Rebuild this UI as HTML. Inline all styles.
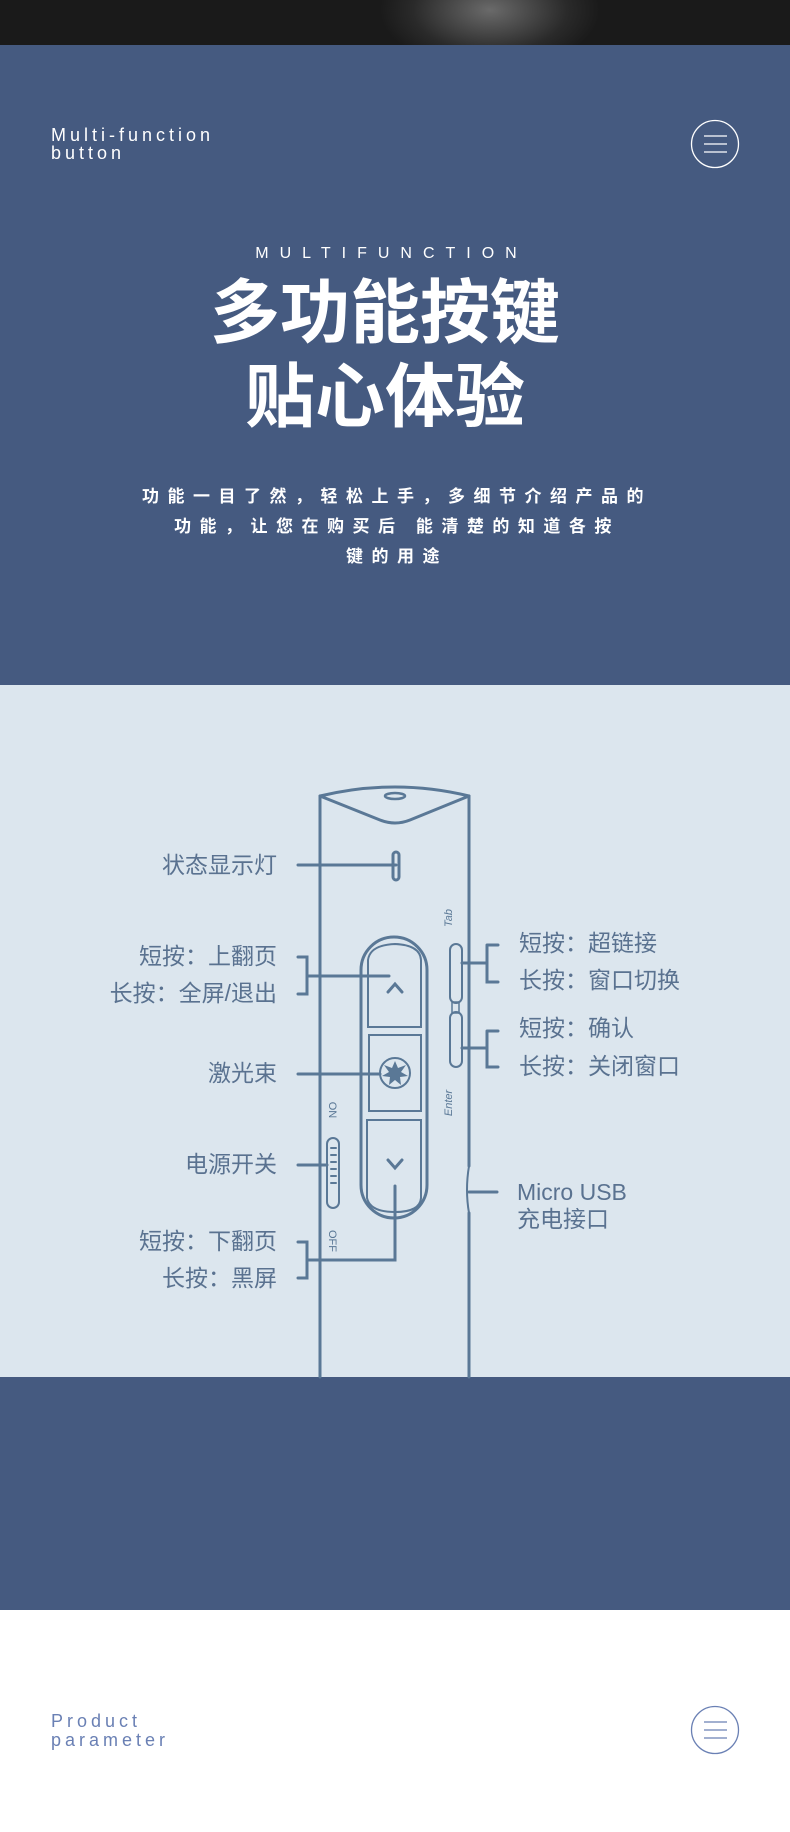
<!DOCTYPE html>
<html><head><meta charset="utf-8"><style>
*{margin:0;padding:0;box-sizing:border-box}
body{width:790px;height:1832px;position:relative;overflow:hidden;background:#fff;font-family:"Liberation Sans","Noto Sans CJK SC",sans-serif}
.abs{position:absolute}
</style></head><body>
<div class="abs" style="left:0;top:0;width:790px;height:45px;background:radial-gradient(ellipse 110px 60px at 490px 10px,#6a6a6a,#2a2a2a 70%,#1a1a1a)"></div>
<div class="abs" style="left:0;top:45px;width:790px;height:640px;background:#455a80"></div>
<div class="abs" style="left:0;top:685px;width:790px;height:692px;background:#dce6ee"></div>
<div class="abs" style="left:0;top:1377px;width:790px;height:233px;background:#455a80"></div>

<div class="abs" style="left:51px;top:126px;color:#fff;font-size:18px;line-height:18px;letter-spacing:4px;font-weight:500">Multi-function<br>button</div>
<div class="abs" style="left:0;top:245px;width:772px;text-align:center;color:#fff;font-size:16px;letter-spacing:11px;padding-left:11px">MULTIFUNCTION</div>
<div class="abs" style="left:0;top:266px;width:770px;text-align:center;color:#fff;font-size:70px;font-weight:bold;line-height:84px;font-family:'Noto Sans CJK SC',sans-serif">多功能按键<br>贴心体验</div>
<div class="abs" style="left:0;top:480px;width:790px;text-align:center;color:#fff;font-size:17px;font-weight:bold;line-height:30px;letter-spacing:8.5px;padding-left:4px;font-family:'Noto Sans CJK SC',sans-serif">功能一目了然，轻松上手，多细节介绍产品的<br>功能，让您在购买后 能清楚的知道各按<br>键的用途</div>

<div class="abs" style="left:51px;top:1712px;color:#6a80b4;font-size:18px;line-height:19px;letter-spacing:4px;font-weight:500">Product<br>parameter</div>

<svg class="abs" style="left:0;top:0" width="790" height="1832">
<g fill="none" stroke="#fff" stroke-width="1.3">
<circle cx="715" cy="144" r="23.5"/>
<path d="M704 136H727M704 144H727M704 152H727"/>
</g>
<g fill="none" stroke="#6a80b4" stroke-width="1.3">
<circle cx="715" cy="1730" r="23.5"/>
<path d="M704 1722H727M704 1730H727M704 1738H727"/>
</g>
<g fill="none" stroke="#5a7896" stroke-width="3" stroke-linecap="round">
<path d="M320 1377V796M469 1377V1213M469 1166V796"/>
<path d="M320 796Q395 778 469 796"/>
<path d="M320 796Q360 812 380 820Q395 826 410 820Q430 812 469 796"/>
<ellipse cx="395" cy="796" rx="10" ry="3" stroke-width="2.5"/>
<rect x="393" y="852" width="6" height="28" rx="3"/>
<rect x="361" y="937" width="66" height="281" rx="33"/>
<path d="M368 1027V960Q370 945 395 944Q420 945 421 960V1027Z" stroke-width="2"/>
<rect x="369" y="1035" width="52" height="76" stroke-width="2"/>
<path d="M367 1120H421V1198Q420 1212 395 1212Q370 1212 367 1198Z" stroke-width="2"/>
<path d="M388 992L395 984L402 992M388 1160L395 1168L402 1160"/>
<circle cx="395" cy="1073" r="15" stroke-width="2"/>
<path d="M298 865H396M298 957H307V994H298M307 976H389M298 1074H380M298 1165H327M298 1242H307V1278H298M307 1260H395V1186"/>
<rect x="327" y="1138" width="12" height="70" rx="6" stroke-width="2"/>
<path d="M331 1148h5M331 1155h5M331 1162h5M331 1169h5M331 1176h5M331 1183h5" stroke-width="2"/>
<rect x="450" y="944" width="12" height="59" rx="6" stroke-width="2"/>
<rect x="450" y="1012" width="12" height="55" rx="6" stroke-width="2"/>
<rect x="452" y="1002" width="7" height="11" stroke-width="1.5"/>
<path d="M462 963H487M487 945H498M487 945V982H498M462 1048H487M487 1031H498M487 1031V1067H498M469 1192H497"/>
<path d="M469 1166q-4 24 0 47" stroke-width="2"/>
</g>
<g fill="#5a7896" stroke="none">
<polygon points="395,1061 398,1068 406,1065 401,1072 408,1076 400,1077 401,1085 395,1080 389,1085 390,1077 382,1076 389,1072 384,1065 392,1068"/>
</g>
<g fill="#5a7896" font-family="Liberation Sans,sans-serif" font-size="11" font-style="italic">
<text transform="translate(452,918) rotate(-90)" text-anchor="middle">Tab</text>
<text transform="translate(452,1103) rotate(-90)" text-anchor="middle">Enter</text>
<text transform="translate(329,1110) rotate(90)" text-anchor="middle" font-style="normal">ON</text>
<text transform="translate(329,1241) rotate(90)" text-anchor="middle" font-style="normal">OFF</text>
</g>
<g fill="#5a7290" font-family="Liberation Sans,Noto Sans CJK SC,sans-serif" font-size="23">
<g text-anchor="end">
<text x="277" y="873">状态显示灯</text>
<text x="277" y="964">短按：上翻页</text>
<text x="277" y="1001">长按：全屏/退出</text>
<text x="277" y="1081">激光束</text>
<text x="277" y="1172">电源开关</text>
<text x="277" y="1249">短按：下翻页</text>
<text x="277" y="1286">长按：黑屏</text>
</g>
<text x="519" y="951">短按：超链接</text>
<text x="519" y="988">长按：窗口切换</text>
<text x="519" y="1036">短按：确认</text>
<text x="519" y="1074">长按：关闭窗口</text>
<text x="517" y="1200">Micro USB</text>
<text x="517" y="1227">充电接口</text>
</g>
</svg>
</body></html>
